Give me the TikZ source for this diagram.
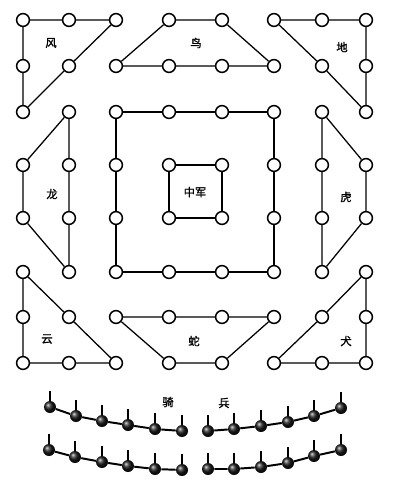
\documentclass[tikz,border=0pt]{standalone}
\usepackage{fontspec}
\newfontfamily\cjk[FakeBold=1.5]{Noto Sans CJK SC}
\begin{document}
\begin{tikzpicture}[x=0.025cm,y=-0.025cm,
 pt/.style={circle,draw,fill=white,line width=1.1pt,minimum size=0.32cm,inner sep=0pt},
 ln/.style={line width=0.9pt},
 lbl/.style={font=\cjk\fontsize{8}{9}\selectfont},
 ball/.style={circle,shading=ball,ball color=black!90,minimum size=0.3cm,inner sep=0pt},
 chain/.style={line width=1.4pt},
 tick/.style={line width=0.8pt}]
\useasboundingbox (0,0) rectangle (400,493);
% 风
\node[pt] (fa) at (23,20) {}; \node[pt] (fb) at (69,20) {}; \node[pt] (fc) at (116,20) {};
\node[pt] (fd) at (23,66) {}; \node[pt] (fe) at (69,66) {}; \node[pt] (ff) at (23,112) {};
\draw[ln] (fa)--(fb)--(fc) (fa)--(fd)--(ff) (ff)--(fe)--(fc);
\node[lbl] (lfeng) at (51,43) {风};
% 鸟
\node[pt] (na) at (169,20) {}; \node[pt] (nb) at (222,20) {};
\node[pt] (nc) at (116,66) {}; \node[pt] (nd) at (169,66) {}; \node[pt] (ne) at (222,66) {}; \node[pt] (nf) at (274,66) {};
\draw[ln] (na)--(nb) (nc)--(na) (nb)--(nf) (nc)--(nd)--(ne)--(nf);
\node[lbl] (lniao) at (196,43) {鸟};
% 地
\node[pt] (da) at (274,20) {}; \node[pt] (db) at (322,20) {}; \node[pt] (dc) at (366,20) {};
\node[pt] (dd) at (322,66) {}; \node[pt] (de) at (366,66) {}; \node[pt] (df) at (366,112) {};
\draw[ln] (da)--(db)--(dc)--(de)--(df) (da)--(dd)--(df);
\node[lbl] (ldi) at (342,47) {地};
% 龙
\node[pt] (la) at (69,112) {}; \node[pt] (lb) at (23,165) {}; \node[pt] (lc) at (69,165) {};
\node[pt] (ld) at (23,218) {}; \node[pt] (le) at (69,218) {}; \node[pt] (lf) at (69,272) {};
\draw[ln] (la)--(lc)--(le)--(lf) (la)--(lb)--(ld)--(lf);
\node[lbl] (llong) at (52,194) {龙};
% big square
\node[pt] (s11) at (116,112) {}; \node[pt] (s12) at (169,112) {}; \node[pt] (s13) at (222,112) {}; \node[pt] (s14) at (274,112) {};
\node[pt] (s21) at (116,165) {}; \node[pt] (s24) at (274,165) {};
\node[pt] (s31) at (116,218) {}; \node[pt] (s34) at (274,218) {};
\node[pt] (s41) at (116,272) {}; \node[pt] (s42) at (169,272) {}; \node[pt] (s43) at (222,272) {}; \node[pt] (s44) at (274,272) {};
\draw[ln] (s11)--(s12)--(s13)--(s14)--(s24)--(s34)--(s44)--(s43)--(s42)--(s41)--(s31)--(s21)--(s11);
% inner square
\node[pt] (i1) at (169,165) {}; \node[pt] (i2) at (222,165) {}; \node[pt] (i3) at (222,218) {}; \node[pt] (i4) at (169,218) {};
\draw[ln] (i1)--(i2)--(i3)--(i4)--(i1);
\node[lbl] (lzj) at (195,192) {中军};
% 虎
\node[pt] (ha) at (322,112) {}; \node[pt] (hb) at (322,165) {}; \node[pt] (hc) at (366,165) {};
\node[pt] (hd) at (322,218) {}; \node[pt] (he) at (366,218) {}; \node[pt] (hf) at (322,272) {};
\draw[ln] (ha)--(hb)--(hd)--(hf) (ha)--(hc)--(he)--(hf);
\node[lbl] (lhu) at (346,197) {虎};
% 云
\node[pt] (ya) at (23,272) {}; \node[pt] (yb) at (23,317) {}; \node[pt] (yc) at (69,317) {};
\node[pt] (yd) at (23,363) {}; \node[pt] (ye) at (69,363) {}; \node[pt] (yf) at (116,363) {};
\draw[ln] (ya)--(yb)--(yd)--(ye)--(yf) (ya)--(yc)--(yf);
\node[lbl] (lyun) at (47,339) {云};
% 蛇
\node[pt] (sa) at (116,317) {}; \node[pt] (sb) at (169,317) {}; \node[pt] (sc) at (222,317) {}; \node[pt] (sd) at (274,317) {};
\node[pt] (se) at (169,363) {}; \node[pt] (sf) at (222,363) {};
\draw[ln] (sa)--(sb)--(sc)--(sd) (sa)--(se)--(sf)--(sd);
\node[lbl] (lshe) at (194,341) {蛇};
% 犬
\node[pt] (qa) at (366,272) {}; \node[pt] (qb) at (322,317) {}; \node[pt] (qc) at (366,317) {};
\node[pt] (qd) at (274,363) {}; \node[pt] (qe) at (322,363) {}; \node[pt] (qf) at (366,363) {};
\draw[ln] (qa)--(qc)--(qf)--(qe)--(qd) (qd)--(qb)--(qa);
\node[lbl] (lquan) at (346,341) {犬};
% 骑兵
\node[lbl] (lqi) at (168,402) {骑};
\node[lbl] (lbing) at (224,403) {兵};
\foreach \p [count=\i] in {(50,407),(76,416),(102,421),(128,425),(155,429),(182,431)}
  {\node[ball] (ua\i) at \p {}; \draw[tick] (ua\i.north) -- ++(0,-10);}
\foreach \p [count=\i] in {(49,450),(75,457),(102,462),(128,466),(155,469),(182,470)}
  {\node[ball] (ub\i) at \p {}; \draw[tick] (ub\i.north) -- ++(0,-10);}
\foreach \p [count=\i] in {(208,431),(234,429),(261,426),(288,422),(314,416),(341,408)}
  {\node[ball] (va\i) at \p {}; \draw[tick] (va\i.north) -- ++(0,-10);}
\foreach \p [count=\i] in {(208,469),(234,469),(261,467),(288,463),(314,456),(341,450)}
  {\node[ball] (vb\i) at \p {}; \draw[tick] (vb\i.north) -- ++(0,-10);}
\draw[chain] (ua1)--(ua2)--(ua3)--(ua4)--(ua5)--(ua6);
\draw[chain] (ub1)--(ub2)--(ub3)--(ub4)--(ub5)--(ub6);
\draw[chain] (va1)--(va2)--(va3)--(va4)--(va5)--(va6);
\draw[chain] (vb1)--(vb2)--(vb3)--(vb4)--(vb5)--(vb6);
\end{tikzpicture}
\end{document}
